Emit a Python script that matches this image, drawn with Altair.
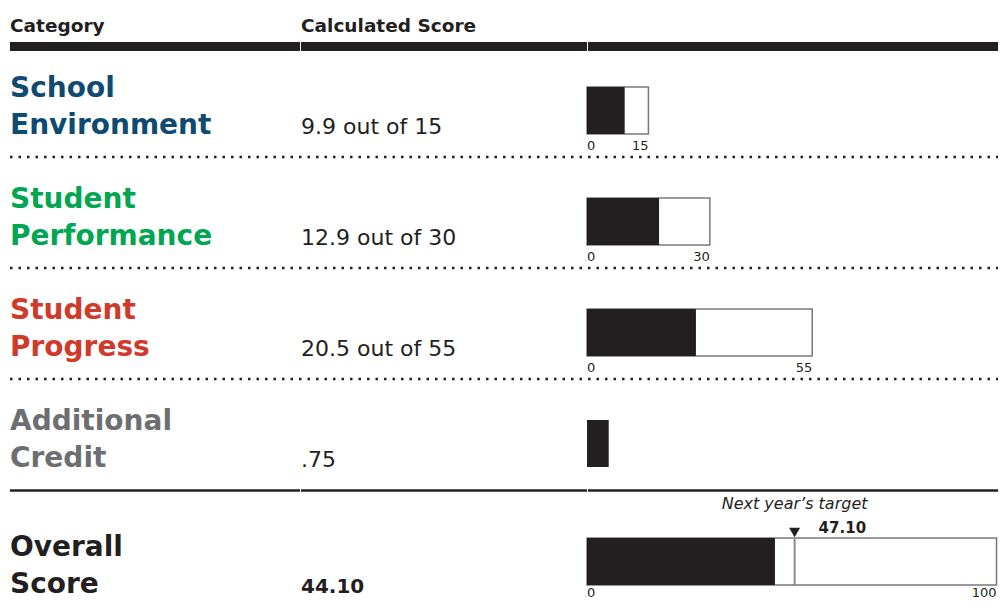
import altair as alt
import pandas as pd

# ---------------- data ----------------
categories = ["School\nEnvironment", "Student\nPerformance", "Student\nProgress",
              "Additional\nCredit", "Overall\nScore"]
score_labels = ["9.9 out of 15", "12.9 out of 30", "20.5 out of 55", ".75", "44.10"]
max_points = [15, 30, 55, None, 100]
bar_lengths = [9.2, 17.6, 26.6, 5.3, 45.9]      # drawn bar lengths
target_value = 50.7                              # drawn position of the target marker
target_label = "47.10"
target_title = "Next year\u2019s target"
header_labels = ["Category", "Calculated Score"]
name_colors = ["#0e4a72", "#00a651", "#d03a2b", "#6d6e71", "#231f20"]

# ---------------- layout ----------------
W, H = 990, 592            # page is 1006 x 608 with an 8px margin
M = 8                      # page margin
RIGHT = M + W              # right edge of the rules (page px)
X0, X100 = 587, 996.5      # page px of 0 and 100 on the bar scale
PPU = (X100 - X0) / 100.0
INK = "#231f20"
FONT = "DejaVu Sans"


def ux(px):
    return (px - X0) / PPU


xs = alt.Scale(domain=[ux(M), ux(M + W)], nice=False, zero=False)
ys = alt.Scale(domain=[M, M + H], reverse=True, nice=False, zero=False)

recs = []
for i, (c, s, m, v) in enumerate(zip(categories, score_labels, max_points, bar_lengths)):
    off = 111 * i + (15 if i == 4 else 0)
    boff = 111 * i + (7 if i == 4 else 0)
    gap = 11.5 if i == 4 else 16
    recs.append(dict(row=i, category=c, score=s, maxv=m, val=v, start=0,
                     name_y=97 + off, score_y=134 + off,
                     bar_top=87 + boff, bar_bot=134 + boff, lab_y=134 + boff + gap))
rows = pd.DataFrame(recs)
base = alt.Chart(rows)


def X(f):
    return alt.X(f, scale=xs, axis=None)


def Y(f):
    return alt.Y(f, scale=ys, axis=None)


names = base.mark_text(align="left", baseline="alphabetic", font=FONT, fontWeight="bold",
                       fontSize=28, lineBreak="\n", lineHeight=37).encode(
    x=alt.value(10 - M), y=Y("name_y:Q"), text="category:N",
    color=alt.Color("category:N", scale=alt.Scale(domain=categories, range=name_colors), legend=None))

scores = base.transform_filter("datum.row < 4").mark_text(
    align="left", baseline="alphabetic", font=FONT, fontSize=22, color=INK).encode(
    x=alt.value(301 - M), y=Y("score_y:Q"), text="score:N")

overall_score = base.transform_filter("datum.row == 4").mark_text(
    align="left", baseline="alphabetic", font=FONT, fontWeight="bold", fontSize=20, color=INK).encode(
    x=alt.value(301 - M), y=Y("score_y:Q"), text="score:N")

outline = base.transform_filter("datum.maxv != null").mark_rect(
    fill="white", stroke="#7a7a7a", strokeWidth=1.5).encode(
    x=X("start:Q"), x2="maxv:Q", y=Y("bar_top:Q"), y2="bar_bot:Q")

fill = base.mark_rect(color=INK).encode(
    x=X("start:Q"), x2="val:Q", y=Y("bar_top:Q"), y2="bar_bot:Q")

zero_lab = base.transform_filter("datum.maxv != null").mark_text(
    align="left", baseline="alphabetic", font=FONT, fontSize=13, color=INK).encode(
    x=X("start:Q"), y=Y("lab_y:Q"), text=alt.Text("start:Q", format="d"))

max_lab = base.transform_filter("datum.maxv != null").mark_text(
    align="right", baseline="alphabetic", font=FONT, fontSize=13, color=INK).encode(
    x=X("maxv:Q"), y=Y("lab_y:Q"), text=alt.Text("maxv:Q", format="d"))

ov = rows[rows.row == 4].iloc[0]
tgt = alt.Chart(pd.DataFrame([dict(t=target_value, lab=target_label, title=target_title,
                                   top=ov.bar_top, bot=ov.bar_bot + 1,
                                   tri_y=ov.bar_top - 5.5, lab_y=ov.bar_top - 5,
                                   title_y=ov.bar_top - 29)]))

tgt_rule = tgt.mark_rule(color="#8a8a8a", strokeWidth=2).encode(
    x=X("t:Q"), y=Y("top:Q"), y2="bot:Q")
tgt_tri = tgt.mark_point(shape="triangle-down", filled=True, size=121, color=INK, opacity=1).encode(
    x=X("t:Q"), y=Y("tri_y:Q"))
tgt_lab = tgt.mark_text(align="left", baseline="alphabetic", dx=24, font=FONT, fontWeight="bold",
                        fontSize=15, color=INK).encode(x=X("t:Q"), y=Y("lab_y:Q"), text="lab:N")
tgt_title = tgt.mark_text(align="center", baseline="alphabetic", font=FONT, fontStyle="italic",
                          fontSize=16, color=INK).encode(x=X("t:Q"), y=Y("title_y:Q"), text="title:N")

hdr = alt.Chart(pd.DataFrame([dict(h=header_labels[0], y=32), dict(h=header_labels[1], y=32)]))
hdr1 = hdr.transform_filter(alt.datum.h == header_labels[0]).mark_text(
    align="left", baseline="alphabetic", font=FONT, fontWeight="bold", fontSize=18.5, color=INK).encode(
    x=alt.value(10 - M), y=Y("y:Q"), text="h:N")
hdr2 = hdr.transform_filter(alt.datum.h == header_labels[1]).mark_text(
    align="left", baseline="alphabetic", font=FONT, fontWeight="bold", fontSize=18.5, color=INK).encode(
    x=alt.value(301 - M), y=Y("y:Q"), text="h:N")

segs = [(10, 300), (301, 587), (588, RIGHT)]
seg_df = pd.DataFrame([dict(a=ux(a), b=ux(b), y=46.5) for a, b in segs]
                      + [dict(a=ux(a), b=ux(b), y=490.5) for a, b in segs])
seg_df["w"] = ["thick"] * 3 + ["thin"] * 3
head_rule = alt.Chart(seg_df).transform_filter("datum.w == 'thick'").mark_rule(
    color=INK, strokeWidth=9).encode(x=X("a:Q"), x2="b:Q", y=Y("y:Q"))
solid_rule = alt.Chart(seg_df).transform_filter("datum.w == 'thin'").mark_rule(
    color=INK, strokeWidth=2.5).encode(x=X("a:Q"), x2="b:Q", y=Y("y:Q"))

dots = alt.Chart(pd.DataFrame([dict(a=ux(10), b=ux(RIGHT), y=157 + 111 * i) for i in range(3)])).mark_rule(
    color=INK, strokeWidth=2.5, strokeDash=[2.5, 6]).encode(x=X("a:Q"), x2="b:Q", y=Y("y:Q"))

chart = alt.layer(
    head_rule, solid_rule, dots, hdr1, hdr2, names, scores, overall_score,
    outline, fill, zero_lab, max_lab, tgt_rule, tgt_tri, tgt_lab, tgt_title,
).properties(width=W, height=H, padding=0, autosize=alt.AutoSizeParams(type="none"),
             background="white").configure_view(stroke=None)

chart.save("out.html", embed_options={"renderer": "svg", "actions": False})
